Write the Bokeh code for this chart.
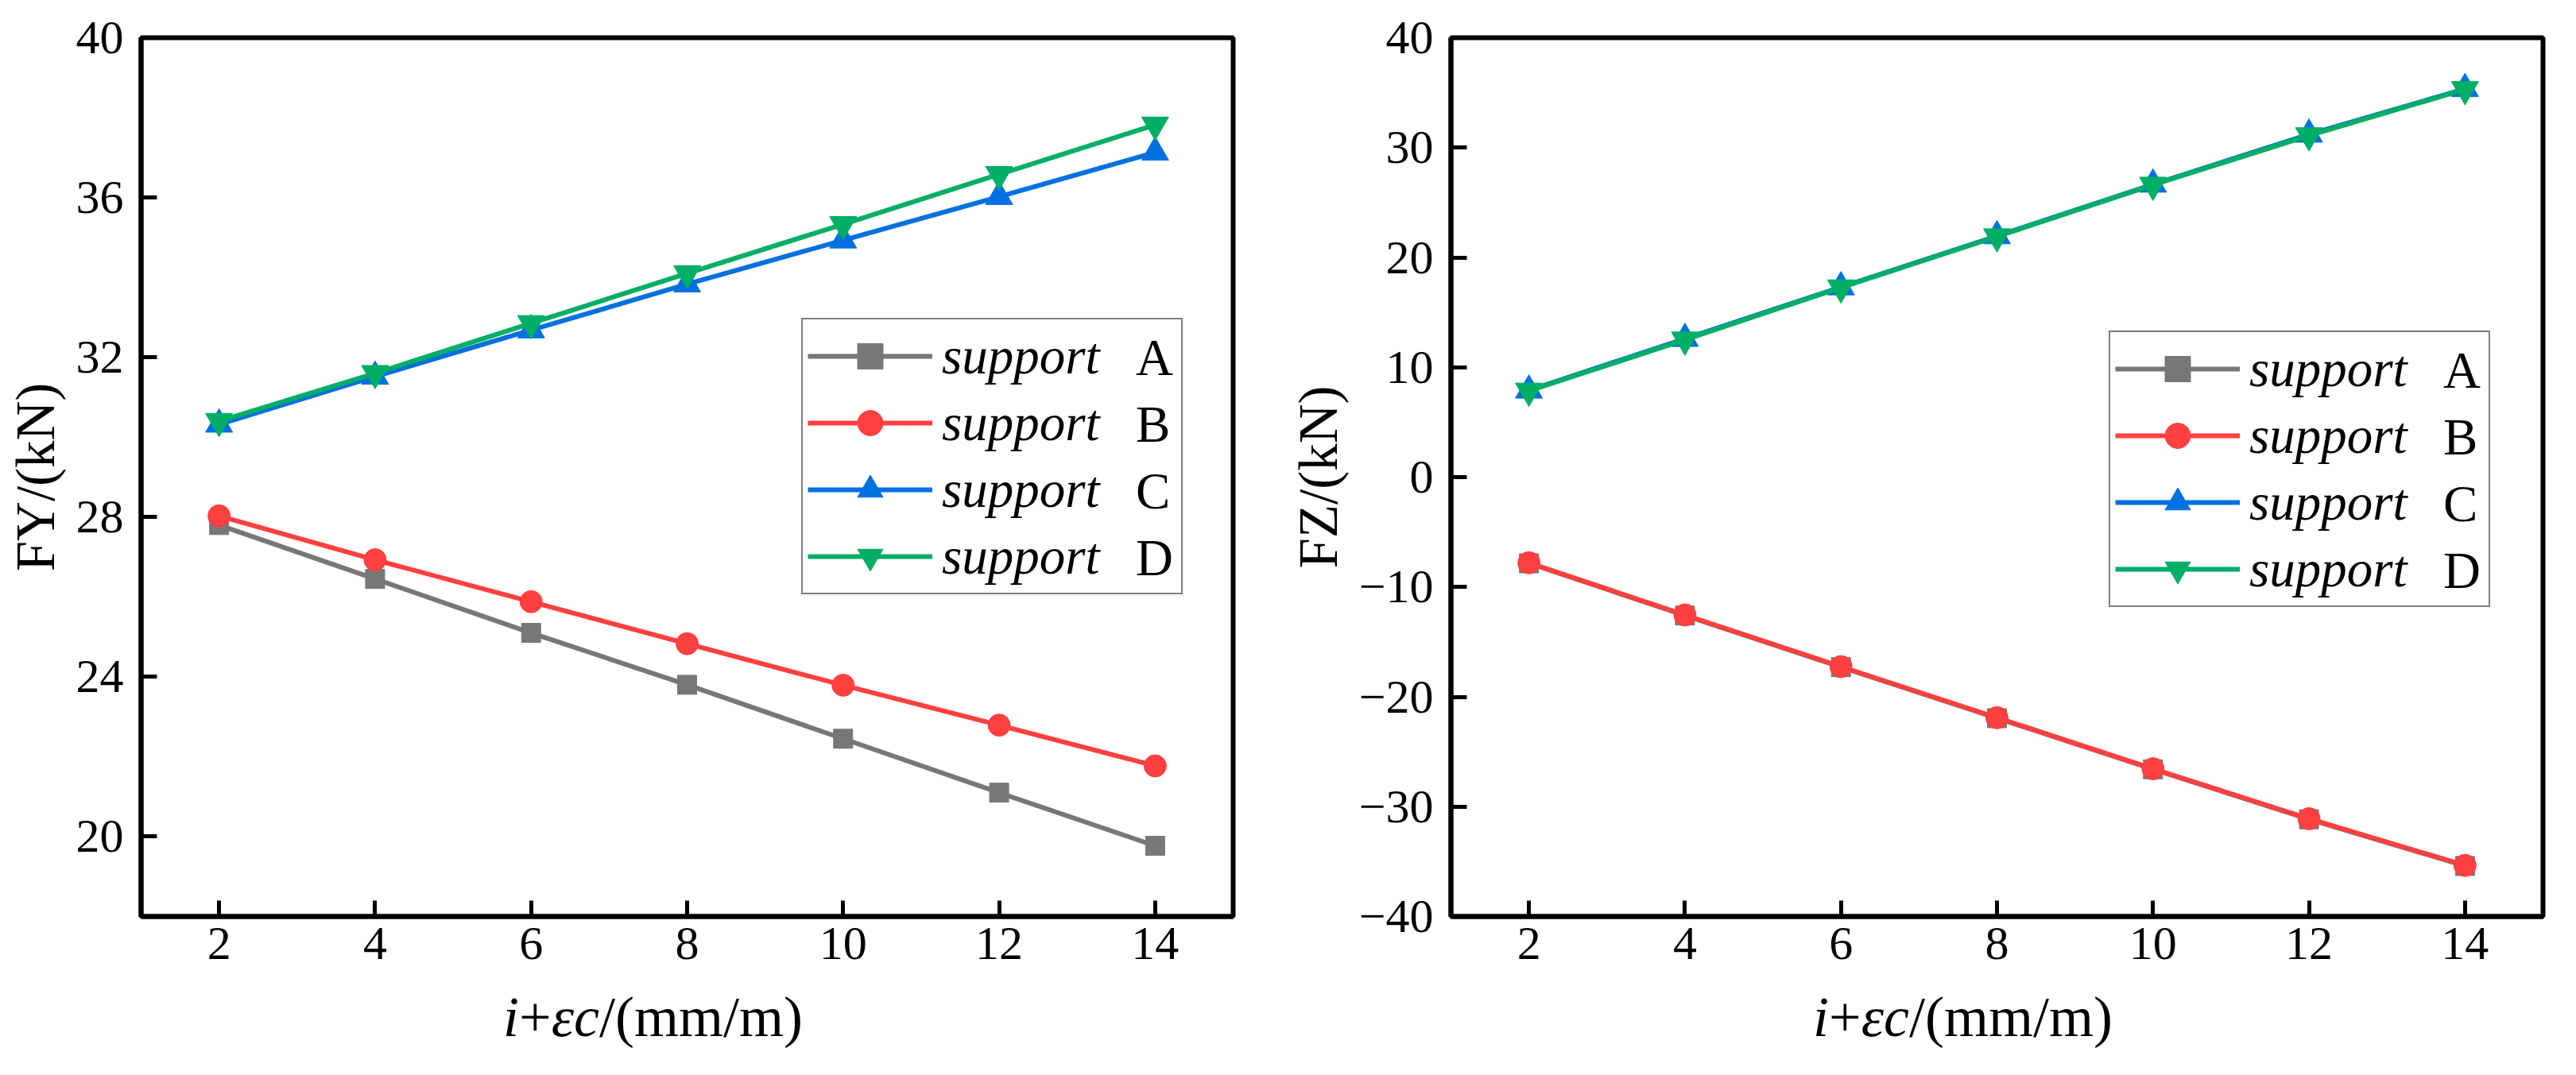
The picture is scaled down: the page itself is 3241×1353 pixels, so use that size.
from bokeh.plotting import figure
from bokeh.layouts import row, column
from bokeh.models import FixedTicker, Legend, LegendItem, Range1d, Div
from bokeh.core.properties import value
from bokeh.embed import file_html
from bokeh.resources import INLINE

# ---------------- data ----------------
x_vals = [2, 4, 6, 8, 10, 12, 14]
series_names = ["A", "B", "C", "D"]

fy_A = [27.80, 26.45, 25.10, 23.80, 22.45, 21.10, 19.77]
fy_B = [28.03, 26.93, 25.88, 24.83, 23.79, 22.79, 21.77]
fy_C = [30.32, 31.52, 32.68, 33.83, 34.93, 36.02, 37.13]
fy_D = [30.40, 31.60, 32.85, 34.10, 35.33, 36.58, 37.82]

fz_A = [-7.85, -12.60, -17.30, -21.95, -26.60, -31.15, -35.40]
fz_B = [-7.80, -12.55, -17.25, -21.90, -26.55, -31.10, -35.35]
fz_C = [7.90, 12.60, 17.30, 21.95, 26.65, 31.20, 35.35]
fz_D = [7.85, 12.50, 17.25, 21.90, 26.60, 31.10, 35.30]

x_ticks = [2, 4, 6, 8, 10, 12, 14]
fy_ticks = [20, 24, 28, 32, 36, 40]
fz_ticks = [-40, -30, -20, -10, 0, 10, 20, 30, 40]

legend_word = "support"
y_titles = ["FY/(kN)", "FZ/(kN)"]
x_title_html = "<i>i</i>+<i>εc</i>/(mm/m)"

# ---------------- style ----------------
FONT = "Liberation Serif"
colors = {"A": "#777777", "B": "#FF4040", "C": "#0070E0", "D": "#00AE65"}
markers = {"A": "square", "B": "circle", "C": "triangle", "D": "inverted_triangle"}
msizes = {"A": 24, "B": 28, "C": 34, "D": 34}

FRAME_W, FRAME_H = 1374, 1106
TICK_FS = 60
TITLE_FS = 69
XTITLE_FS = 72
LEG_FS = 65
XMIN, XMAX = 1, 15
TOP_B, BOT_B = 47, 85
STRIP_H = 99


def make_panel(series, yr, y_ticks, y_title, min_left, min_right, leg_xy):
    p = figure(frame_width=FRAME_W, frame_height=FRAME_H,
               x_range=Range1d(XMIN, XMAX), y_range=Range1d(*yr),
               output_backend="svg", toolbar_location=None,
               min_border_left=min_left, min_border_right=min_right,
               min_border_top=TOP_B, min_border_bottom=BOT_B,
               background_fill_color="white", border_fill_color="white")
    p.grid.visible = False
    p.outline_line_color = "black"
    p.outline_line_width = 6
    p.outline_line_alpha = 1.0

    p.xaxis.ticker = FixedTicker(ticks=x_ticks, minor_ticks=[])
    p.yaxis.ticker = FixedTicker(ticks=y_ticks, minor_ticks=[])
    for ax in (p.xaxis, p.yaxis):
        ax.axis_line_width = 6
        ax.axis_line_color = "black"
        ax.major_tick_in = 20
        ax.major_tick_out = 0
        ax.minor_tick_in = 0
        ax.minor_tick_out = 0
        ax.major_tick_line_width = 5
        ax.major_tick_line_color = "black"
        ax.major_label_text_font = FONT
        ax.major_label_text_font_size = f"{TICK_FS}px"
        ax.major_label_text_color = "black"
    p.xaxis.major_label_standoff = 14
    p.yaxis.major_label_standoff = 22
    p.yaxis.axis_label = y_title
    p.yaxis.axis_label_text_font = FONT
    p.yaxis.axis_label_text_font_size = f"{TITLE_FS}px"
    p.yaxis.axis_label_text_font_style = "normal"
    p.yaxis.axis_label_text_color = "black"
    p.yaxis.axis_label_standoff = 10

    items = []
    for name in series_names:
        ys = series[name]
        lr = p.line(x_vals, ys, line_color=colors[name], line_width=6)
        sr = p.scatter(x_vals, ys, marker=markers[name], size=msizes[name],
                       fill_color=colors[name], line_color=colors[name], line_width=1)
        items.append(LegendItem(label=value(legend_word), renderers=[lr, sr]))

    pad, gh, sp = 6, 80, 4
    leg = Legend(items=items, location=leg_xy, orientation="vertical",
                 padding=pad, spacing=sp, margin=0,
                 glyph_width=157, glyph_height=gh, label_standoff=12,
                 label_width=295, label_height=gh,
                 label_text_font=FONT, label_text_font_size=f"{LEG_FS}px",
                 label_text_font_style="italic", label_text_color="black",
                 border_line_color="black", border_line_width=2,
                 background_fill_color="white", background_fill_alpha=1.0)
    p.add_layout(leg, "center")

    # second, borderless legend carrying the upright series letters
    dummy = p.scatter(x=[], y=[], size=0, alpha=0)
    letter_items = [LegendItem(label=value(n), renderers=[dummy]) for n in series_names]
    vx, vy = leg_xy
    leg2 = Legend(items=letter_items, location=(vx + 414, vy), orientation="vertical",
                  padding=pad, spacing=sp, margin=0,
                  glyph_width=1, glyph_height=gh, label_standoff=0,
                  label_width=40, label_height=gh,
                  label_text_font=FONT, label_text_font_size=f"{LEG_FS}px",
                  label_text_font_style="normal", label_text_color="black",
                  border_line_alpha=0.0, background_fill_alpha=0.0)
    p.add_layout(leg2, "center")
    return p


def make_title(min_left, fig_width):
    html = (f'<div style="margin:0;padding:6px 0 0 {min_left + 456}px;'
            f'font-family:\'{FONT}\';font-size:{XTITLE_FS}px;line-height:{XTITLE_FS}px;'
            f'color:black;white-space:nowrap;">{x_title_html}</div>')
    return Div(text=html, width=fig_width, height=STRIP_H, margin=0)


p1 = make_panel({"A": fy_A, "B": fy_B, "C": fy_C, "D": fy_D}, (18, 40), fy_ticks,
                y_titles[0], 177, 61, (831, 405))
p2 = make_panel({"A": fz_A, "B": fz_B, "C": fz_C, "D": fz_D}, (-40, 40), fz_ticks,
                y_titles[1], 213, 20, (828, 389))
d1 = make_title(177, 177 + FRAME_W + 61)
d2 = make_title(213, 213 + FRAME_W + 20)

layout = row(column(p1, d1, spacing=0), column(p2, d2, spacing=0), spacing=0)
open("out.html", "w").write(file_html(layout, INLINE))
